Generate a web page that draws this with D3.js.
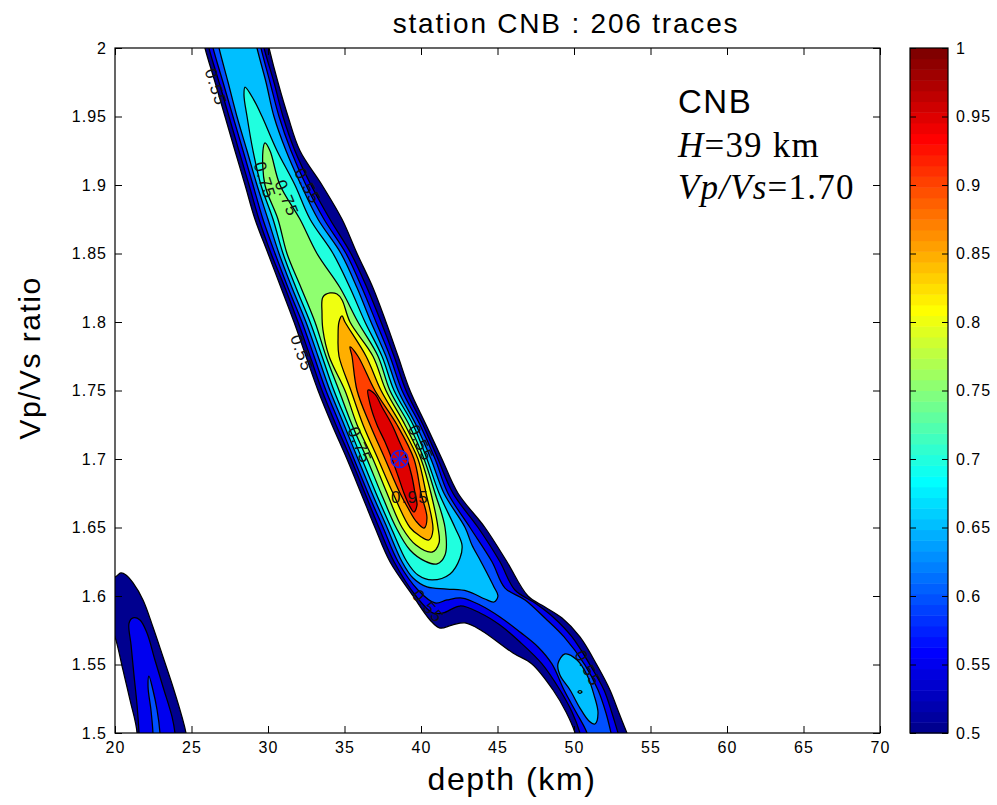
<!DOCTYPE html>
<html>
<head>
<meta charset="utf-8">
<script src="https://cdn.jsdelivr.net/npm/d3@7/dist/d3.min.js"></script>
<style>
  body { margin: 0; background: #fff; }
</style>
</head>
<body>
<svg id="chart" width="997" height="805"></svg>
<script>
// Receiver-function H-k stack, station CNB. Filled contours of normalised
// stack amplitude over crustal thickness (depth) and Vp/Vs ratio.

const depthTicks = [20, 25, 30, 35, 40, 45, 50, 55, 60, 65, 70];
const ratioTicks = [1.5, 1.55, 1.6, 1.65, 1.7, 1.75, 1.8, 1.85, 1.9, 1.95, 2];
const colorTicks = [0.5, 0.55, 0.6, 0.65, 0.7, 0.75, 0.8, 0.85, 0.9, 0.95, 1];

// contour rings, [depth km, Vp/Vs]
const ring050Main = [[25.49,2.02],[25.88,2.0],[26.54,1.975],[27.19,1.95],[27.84,1.925],[28.50,1.9],[29.15,1.875],[30.00,1.85],[30.85,1.825],[31.70,1.8],[32.48,1.775],[33.27,1.75],[34.18,1.725],[35.16,1.7],[36.08,1.675],[36.99,1.65],[37.97,1.625],[39.48,1.6],[40.59,1.5825],[41.24,1.5766],[42.03,1.5788],[42.88,1.5803],[43.99,1.5745],[46.01,1.5584],[47.25,1.5504],[48.63,1.5314],[49.48,1.5153],[50.07,1.5],[50.46,1.4803],
  [54.18,1.4803],[53.46,1.5],[52.94,1.5146],[52.35,1.5314],[51.50,1.5496],[50.39,1.5701],[49.22,1.5839],[48.10,1.592],[46.99,1.6],[45.62,1.625],[44.18,1.65],[42.42,1.675],[41.37,1.7],[40.33,1.725],[39.28,1.75],[38.50,1.775],[37.71,1.8],[36.86,1.825],[35.82,1.85],[34.84,1.875],[33.53,1.9],[32.09,1.925],[31.31,1.95],[30.65,1.975],[30.07,2.0],[29.67,2.02]];
const ring050Corner = [[19.3,1.612],[20.0,1.6139],[20.39,1.6168],[20.72,1.6153],[21.18,1.6095],[21.83,1.5971],[22.48,1.5774],[23.14,1.5555],[23.79,1.5336],[24.38,1.5117],[24.64,1.5],[24.84,1.4803],[21.31,1.4803],[21.44,1.5],[20.98,1.5241],[20.52,1.546],[20.0,1.5701],[19.3,1.59]];

const ring055Main = [[25.75,2.02],[26.14,2.0],[26.80,1.975],[27.45,1.95],[28.10,1.925],[28.76,1.9],[29.41,1.875],[30.20,1.85],[31.11,1.825],[31.96,1.8],[32.75,1.775],[33.53,1.75],[34.44,1.725],[35.42,1.7],[36.34,1.675],[37.25,1.65],[38.24,1.625],[39.67,1.6],[40.78,1.5876],[41.44,1.5876],[42.55,1.5927],[43.86,1.5876],[45.16,1.5788],[46.47,1.5664],[47.91,1.5504],[49.08,1.5314],[49.87,1.5153],[50.39,1.5],[50.78,1.4803],
  [53.46,1.4803],[52.88,1.5],[52.48,1.5146],[51.96,1.5314],[51.05,1.5496],[49.87,1.5701],[48.63,1.5847],[47.45,1.5949],[46.14,1.6044],[45.16,1.625],[43.73,1.65],[42.09,1.675],[41.11,1.7],[40.13,1.725],[39.02,1.75],[38.24,1.775],[37.39,1.8],[36.47,1.825],[35.42,1.85],[34.05,1.875],[32.81,1.9],[31.76,1.925],[30.98,1.95],[30.39,1.975],[29.74,2.0],[29.35,2.02]];
const ring055Corner = [[21.18,1.584],[21.63,1.5825],[22.09,1.573],[22.61,1.5533],[23.14,1.5336],[23.73,1.5117],[23.92,1.5],[24.05,1.4803],[21.63,1.4803],[21.57,1.5],[21.44,1.5204],[21.24,1.5423],[21.05,1.5642],[20.92,1.5803]];

const ring060Main = [[26.01,2.02],[26.41,2.0],[27.06,1.975],[27.71,1.95],[28.37,1.925],[29.02,1.9],[29.67,1.875],[30.46,1.85],[31.31,1.825],[32.22,1.8],[33.01,1.775],[33.79,1.75],[34.71,1.725],[35.62,1.7],[36.54,1.675],[37.52,1.65],[38.50,1.625],[39.80,1.6044],[40.92,1.5949],[41.70,1.5971],[42.68,1.5985],[43.86,1.5934],[45.16,1.5847],[46.47,1.5737],[47.65,1.5628],[48.56,1.5504],[49.35,1.5314],[50.13,1.5153],[50.85,1.5],[51.24,1.4803],
  [52.81,1.4803],[52.42,1.5],[52.09,1.5146],[51.57,1.5314],[50.72,1.5496],[49.35,1.5701],[48.10,1.5839],[46.80,1.5971],[45.49,1.6058],[44.64,1.625],[43.20,1.65],[41.76,1.675],[40.92,1.7],[39.93,1.725],[38.76,1.75],[37.97,1.775],[37.06,1.8],[36.14,1.825],[35.10,1.85],[33.66,1.875],[32.48,1.9],[31.50,1.925],[30.72,1.95],[30.13,1.975],[29.54,2.0],[29.15,2.02]];
const ring060Corner = [[22.22,1.5416],[22.48,1.5314],[22.75,1.5168],[22.94,1.5],[23.01,1.4803],[22.48,1.4803],[22.48,1.5],[22.35,1.5168],[22.16,1.5336]];

const ring065Main = [[26.41,2.02],[26.80,2.0],[27.39,1.975],[27.97,1.95],[28.63,1.925],[29.28,1.9],[30.00,1.875],[30.72,1.85],[31.57,1.825],[32.48,1.8],[33.27,1.775],[34.05,1.75],[34.97,1.725],[35.88,1.7],[36.80,1.675],[37.78,1.65],[38.76,1.625],[39.48,1.6131],[40.39,1.6066],[41.70,1.6051],[43.01,1.6036],[44.18,1.5978],[44.77,1.5956],[45.03,1.6],
  [44.77,1.6066],[44.31,1.6168],[43.86,1.6263],[43.33,1.6372],[42.88,1.65],[41.50,1.675],[40.65,1.7],[39.67,1.725],[38.50,1.75],[37.71,1.775],[36.73,1.8],[35.82,1.825],[34.77,1.85],[33.27,1.875],[32.16,1.9],[31.18,1.925],[30.39,1.95],[29.87,1.975],[29.28,2.0],[28.89,2.02]];
const ring065Tail = [[49.41,1.5577],[50.20,1.5533],[50.85,1.5423],[51.31,1.5277],[51.57,1.5146],[51.37,1.5066],[50.98,1.5088],[50.39,1.5182],[49.74,1.5314],[49.08,1.5423],[48.95,1.5504]];

const ring070Main = [[28.50,1.9715],[28.43,1.9657],[28.63,1.95],[29.02,1.925],[29.54,1.9],[30.33,1.875],[30.98,1.85],[31.83,1.825],[32.75,1.8],[33.53,1.775],[34.31,1.75],[35.23,1.725],[36.14,1.7],[37.06,1.675],[38.04,1.65],[39.08,1.625],[39.80,1.6153],[40.72,1.6117],[41.90,1.6161],[42.55,1.6277],[42.68,1.6372],
  [42.22,1.65],[41.18,1.675],[40.39,1.7],[39.48,1.725],[38.24,1.75],[37.45,1.775],[36.34,1.8],[35.36,1.825],[34.25,1.85],[32.75,1.875],[31.76,1.9],[30.59,1.925],[29.61,1.95],[29.08,1.962]];
const ring070Tail = [[50.26,1.53],[50.39,1.531],[50.52,1.53],[50.39,1.529]];

const ring075Main = [[29.80,1.9307],[29.67,1.925],[29.80,1.9],[30.65,1.875],[31.24,1.85],[32.16,1.825],[33.07,1.8],[33.79,1.775],[34.64,1.75],[35.49,1.725],[36.47,1.7],[37.39,1.675],[38.37,1.65],[39.28,1.6336],[40.26,1.6255],[41.05,1.6234],[41.57,1.6299],
  [41.57,1.65],[40.92,1.675],[40.20,1.7],[39.22,1.725],[37.97,1.75],[37.19,1.775],[35.88,1.8],[34.71,1.825],[33.20,1.85],[32.09,1.875],[30.78,1.9],[30.13,1.925]];

const ring080Main = [[34.05,1.8212],[33.59,1.8182],[33.53,1.8066],[33.59,1.7942],[33.99,1.775],[35.03,1.75],[35.82,1.725],[36.86,1.7],[37.78,1.675],[38.76,1.65],[39.67,1.6372],[40.72,1.6321],[41.18,1.6387],
  [41.11,1.65],[40.65,1.675],[40.00,1.7],[38.95,1.725],[37.71,1.75],[36.86,1.775],[35.36,1.8],[34.84,1.8161],[34.51,1.8204]];

const ring085Main = [[34.84,1.8044],[34.64,1.8],[34.58,1.789],[34.64,1.775],[35.42,1.75],[36.21,1.725],[37.19,1.7],[38.17,1.675],[39.28,1.65],[39.93,1.6438],[40.52,1.6409],
  [40.78,1.6482],[40.33,1.675],[39.80,1.7],[38.69,1.725],[37.39,1.75],[36.41,1.775],[35.03,1.8]];

const ring090Main = [[35.36,1.7818],[35.49,1.775],[35.82,1.75],[36.67,1.725],[37.65,1.7],[38.63,1.675],[39.15,1.6642],[39.67,1.6547],[40.20,1.6496],
  [40.39,1.6569],[40.00,1.675],[39.54,1.7],[38.43,1.725],[36.99,1.75],[35.88,1.775]];

const ring095Main = [[36.54,1.7504],[36.67,1.7401],[37.12,1.725],[37.65,1.7124],[38.10,1.7],[38.50,1.6876],[38.89,1.675],[39.22,1.6664],[39.54,1.6613],
  [39.74,1.6664],[39.61,1.675],[39.40,1.6876],[39.08,1.7],[38.60,1.7124],[38.10,1.725],[37.45,1.738],[36.99,1.7474]];

// clabel texts: value, depth, ratio, rotation (deg)
const labelValues = [0.55, 0.75, 0.75, 0.55, 0.55, 0.75, 0.55, 0.95, 0.55, 0.55];
const labelDepths = [26.6, 29.8, 31.24, 32.61, 32.22, 36.01, 40.0, 39.28, 40.46, 50.92];
const labelRatios = [1.9715, 1.9036, 1.8905, 1.8993, 1.7774, 1.7102, 1.7117, 1.6723, 1.5927, 1.5474];
const labelAngles = [72, 72, 68, 62, 70, 68, 65, 0, 48, 62];

const bestDepth = 38.6;
const bestRatio = 1.70;
const stationName = 'CNB';
const traceCount = 206;

const rings = [
  { level: 0.5, pts: ring050Main }, { level: 0.5, pts: ring050Corner },
  { level: 0.55, pts: ring055Main }, { level: 0.55, pts: ring055Corner },
  { level: 0.6, pts: ring060Main }, { level: 0.6, pts: ring060Corner },
  { level: 0.65, pts: ring065Main }, { level: 0.65, pts: ring065Tail },
  { level: 0.7, pts: ring070Main }, { level: 0.7, pts: ring070Tail },
  { level: 0.75, pts: ring075Main },
  { level: 0.8, pts: ring080Main },
  { level: 0.85, pts: ring085Main },
  { level: 0.9, pts: ring090Main },
  { level: 0.95, pts: ring095Main },
];

// ---- layout ----
const FONT = '"Liberation Sans", Helvetica, Arial, sans-serif';
const SERIF = '"Liberation Serif", "Times New Roman", serif';
const PL = 115, PR = 880, PT = 48, PB = 733;
const CBL = 910, CBR = 948;
const TICK = 7;

const svg = d3.select('#chart');
svg.append('rect').attr('width', 997).attr('height', 805).attr('fill', '#fff');

const x = d3.scaleLinear().domain([20, 70]).range([PL, PR]);
const y = d3.scaleLinear().domain([1.5, 2]).range([PB, PT]);
const yc = d3.scaleLinear().domain([0.5, 1]).range([PB, PT]);

// MATLAB jet(64), 1-based row i
function jetRow(i) {
  const b = i <= 8 ? (i + 8) / 16 : i <= 24 ? 1 : i <= 39 ? (40 - i) / 16 : 0;
  const g = i <= 8 ? 0 : i <= 24 ? (i - 8) / 16 : i <= 40 ? 1 : i <= 55 ? (56 - i) / 16 : 0;
  const r = i <= 24 ? 0 : i <= 40 ? (i - 24) / 16 : i <= 56 ? 1 : (72 - i) / 16;
  return d3.rgb(r * 255, g * 255, b * 255).formatHex();
}
const levelColor = v => jetRow(Math.min(63, Math.max(0, Math.floor((v - 0.5) / 0.5 * 64))) + 1);

svg.append('clipPath').attr('id', 'plot-clip')
  .append('rect').attr('x', PL).attr('y', PT).attr('width', PR - PL).attr('height', PB - PT);

const line = d3.line()
  .x(d => x(d[0])).y(d => y(d[1]))
  .curve(d3.curveCatmullRomClosed.alpha(0.5));

const plotG = svg.append('g').attr('clip-path', 'url(#plot-clip)');
plotG.selectAll('path.band')
  .data(rings)
  .join('path')
  .attr('class', 'band')
  .attr('d', d => line(d.pts))
  .attr('fill', d => levelColor(d.level))
  .attr('stroke', '#000')
  .attr('stroke-width', 1.25)
  .attr('stroke-linejoin', 'round');

// contour labels
plotG.selectAll('text.clabel')
  .data(labelValues)
  .join('text')
  .attr('class', 'clabel')
  .attr('transform', (v, i) => `translate(${x(labelDepths[i])},${y(labelRatios[i])}) rotate(${labelAngles[i]})`)
  .attr('text-anchor', 'middle')
  .attr('dy', '0.35em')
  .style('font-family', FONT).style('font-size', '17px').style('letter-spacing', '1.2px')
  .style('fill', '#111')
  .text(v => String(v));

// best-fit marker: circle + asterisk
const mx = x(bestDepth), my = y(bestRatio), mr = 8.5;
const mk = svg.append('g').attr('stroke', '#2020e8').attr('stroke-width', 1.5).attr('fill', 'none');
mk.append('circle').attr('cx', mx).attr('cy', my).attr('r', mr);
[0, 45, 90, 135].forEach(a => {
  const c = Math.cos(a * Math.PI / 180) * mr, s = Math.sin(a * Math.PI / 180) * mr;
  mk.append('line').attr('x1', mx - c).attr('y1', my - s).attr('x2', mx + c).attr('y2', my + s);
});

// axes (ticks inward on all four sides)
function styleAxis(g) {
  g.select('.domain').remove();
  g.selectAll('line').attr('stroke', '#000');
  g.selectAll('text').attr('fill', '#000')
    .style('font-family', FONT).style('font-size', '16px').style('letter-spacing', '1px');
}
const fmt = d => String(+d.toFixed(2));

svg.append('g').attr('transform', `translate(0,${PB})`)
  .call(d3.axisBottom(x).tickValues(depthTicks).tickSize(-TICK).tickPadding(9).tickFormat(fmt))
  .call(styleAxis);
svg.append('g').attr('transform', `translate(0,${PT})`)
  .call(d3.axisTop(x).tickValues(depthTicks).tickSize(-TICK).tickFormat(''))
  .call(styleAxis);
svg.append('g').attr('transform', `translate(${PL},0)`)
  .call(d3.axisLeft(y).tickValues(ratioTicks).tickSize(-TICK).tickPadding(8).tickFormat(fmt))
  .call(styleAxis);
svg.append('g').attr('transform', `translate(${PR},0)`)
  .call(d3.axisRight(y).tickValues(ratioTicks).tickSize(-TICK).tickFormat(''))
  .call(styleAxis);

svg.append('rect')
  .attr('x', PL).attr('y', PT).attr('width', PR - PL).attr('height', PB - PT)
  .attr('fill', 'none').attr('stroke', '#000').attr('stroke-width', 1.2);

// colorbar: 64 discrete jet cells
const cells = d3.range(64);
svg.append('g').selectAll('rect')
  .data(cells)
  .join('rect')
  .attr('x', CBL).attr('width', CBR - CBL)
  .attr('y', k => yc(0.5 + (k + 1) / 128))
  .attr('height', k => yc(0.5 + k / 128) - yc(0.5 + (k + 1) / 128) + 0.5)
  .attr('fill', k => jetRow(k + 1));

svg.append('g').attr('transform', `translate(${CBR},0)`)
  .call(d3.axisRight(yc).tickValues(colorTicks).tickSize(-6).tickPadding(8).tickFormat(fmt))
  .call(styleAxis);
svg.append('g').attr('transform', `translate(${CBL},0)`)
  .call(d3.axisLeft(yc).tickValues(colorTicks).tickSize(-6).tickFormat(''))
  .call(styleAxis);
svg.append('rect')
  .attr('x', CBL).attr('y', PT).attr('width', CBR - CBL).attr('height', PB - PT)
  .attr('fill', 'none').attr('stroke', '#000').attr('stroke-width', 1.2);

// titles
svg.append('text')
  .attr('x', 566).attr('y', 33).attr('text-anchor', 'middle')
  .style('font-family', FONT).style('font-size', '28px').style('letter-spacing', '1.8px')
  .text(`station ${stationName} : ${traceCount} traces`);

svg.append('text')
  .attr('x', 512).attr('y', 790).attr('text-anchor', 'middle')
  .style('font-family', FONT).style('font-size', '32px').style('letter-spacing', '1.6px')
  .text('depth (km)');

svg.append('text')
  .attr('transform', 'translate(40,358) rotate(-90)').attr('text-anchor', 'middle')
  .style('font-family', FONT).style('font-size', '30px').style('letter-spacing', '1.5px')
  .text('Vp/Vs ratio');

// annotation block
const ann = svg.append('g');
ann.append('text').attr('x', 678).attr('y', 113)
  .style('font-family', FONT).style('font-size', '33px').style('letter-spacing', '1.5px')
  .text(stationName);
const h = ann.append('text').attr('x', 678).attr('y', 157)
  .style('font-family', SERIF).style('font-size', '35px').style('letter-spacing', '1.2px');
h.append('tspan').style('font-style', 'italic').text('H');
h.append('tspan').text(`=${Math.round(bestDepth)} km`);
const k = ann.append('text').attr('x', 678).attr('y', 199)
  .style('font-family', SERIF).style('font-size', '35px').style('letter-spacing', '1.2px');
k.append('tspan').style('font-style', 'italic').text('Vp/Vs');
k.append('tspan').text(`=${bestRatio.toFixed(2)}`);
</script>
</body>
</html>
